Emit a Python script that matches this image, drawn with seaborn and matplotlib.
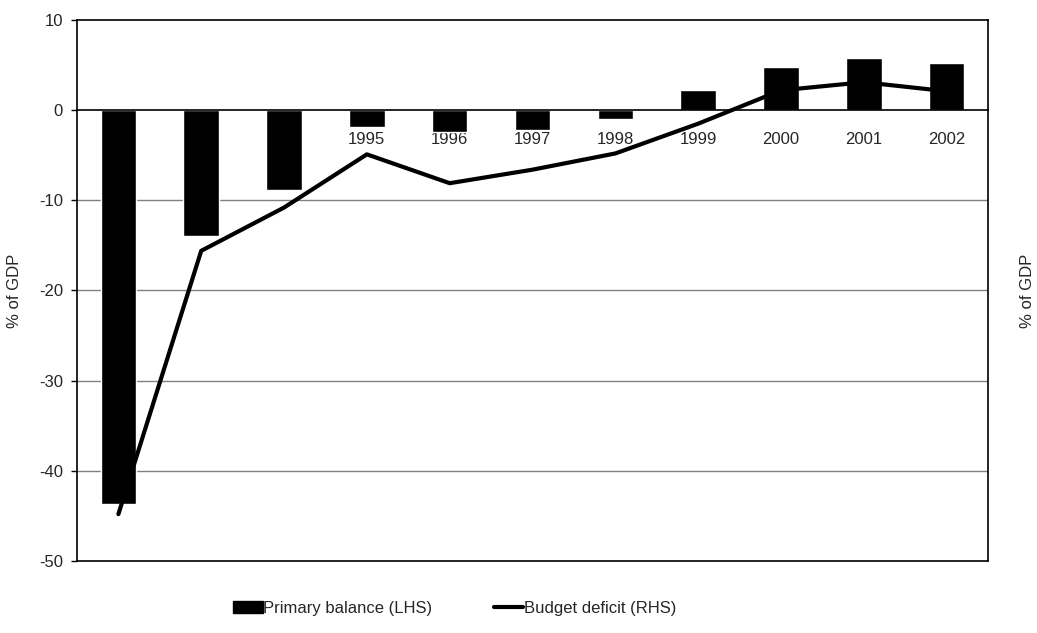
import numpy as np
import pandas as pd
import matplotlib
matplotlib.use("Agg")
import matplotlib.pyplot as plt
import seaborn as sns
from matplotlib.patches import Patch
from matplotlib.lines import Line2D

years = ["1992", "1993", "1994", "1995", "1996", "1997", "1998", "1999", "2000", "2001", "2002"]
primary_balance = [-43.7, -14.0, -8.9, -1.9, -2.4, -2.2, -1.0, 2.2, 4.8, 5.8, 5.2]
budget_deficit = [-44.8, -15.6, -10.8, -4.9, -8.1, -6.6, -4.8, -1.5, 2.2, 3.1, 2.1]
y_ticks = [10, 0, -10, -20, -30, -40, -50]

sns.set_theme(style="white")
plt.rcParams["font.family"] = ["Liberation Sans", "DejaVu Sans"]
plt.rcParams["font.size"] = 12

df = pd.DataFrame({"year": years, "primary": primary_balance, "deficit": budget_deficit})

fig = plt.figure(figsize=(10.37, 6.33), dpi=100)
ax = fig.add_axes([77 / 1037, 1 - 561 / 633, 911 / 1037, 541 / 633])

sns.barplot(data=df, x="year", y="primary", color="black", width=0.43,
            saturation=1, ax=ax, zorder=2)
ax.set_ylim(-50, 10)
ax.set_xlim(-0.5, len(years) - 0.5)
ax.set_yticks(y_ticks)
ax.set_yticklabels([str(v) for v in y_ticks], fontsize=12)
for v in [-10, -20, -30, -40]:
    ax.axhline(v, color="#808080", lw=1, zorder=0.6)
ax.axhline(-50, color="black", lw=1.2, zorder=3, clip_on=False)
ax.set_axisbelow(True)

# x axis on zero line
ax.spines["bottom"].set_position(("data", 0))
for s in ["left", "right", "top", "bottom"]:
    ax.spines[s].set_color("black")
    ax.spines[s].set_linewidth(1.2)
ax.set_xticks(range(len(years)))
ax.set_xticklabels(years, fontsize=12)
ax.set_xticks(np.arange(-0.5, len(years), 1.0), minor=True)
ax.tick_params(axis="x", which="major", length=0, pad=16)
ax.tick_params(axis="x", which="minor", length=4, direction="out", color="black", width=1)
ax.tick_params(axis="y", which="major", length=4, direction="out", color="black", width=1, left=True, pad=6)
ax.set_xlabel("")
ax.set_ylabel("% of GDP", fontsize=12, labelpad=12)

ax2 = ax.twinx()
sns.lineplot(data=df, x="year", y="deficit", color="black", lw=3, ax=ax2, sort=False)
ax2.set_ylim(-50, 10)
ax2.set_xlim(-0.5, len(years) - 0.5)
ax2.set_yticks([])
ax2.set_ylabel("% of GDP", fontsize=12, labelpad=23)
for s in ax2.spines.values():
    s.set_visible(False)

handles = [Patch(facecolor="black", edgecolor="black"),
           Line2D([0], [0], color="black", lw=3)]
fig.legend(handles, ["Primary balance (LHS)", "Budget deficit (RHS)"],
           loc="center", bbox_to_anchor=(455 / 1037, 1 - 608 / 633), ncol=2, frameon=False,
           fontsize=12, handlelength=1.75, handletextpad=0.05, columnspacing=3.7)

fig.savefig("out.png", dpi=100)
